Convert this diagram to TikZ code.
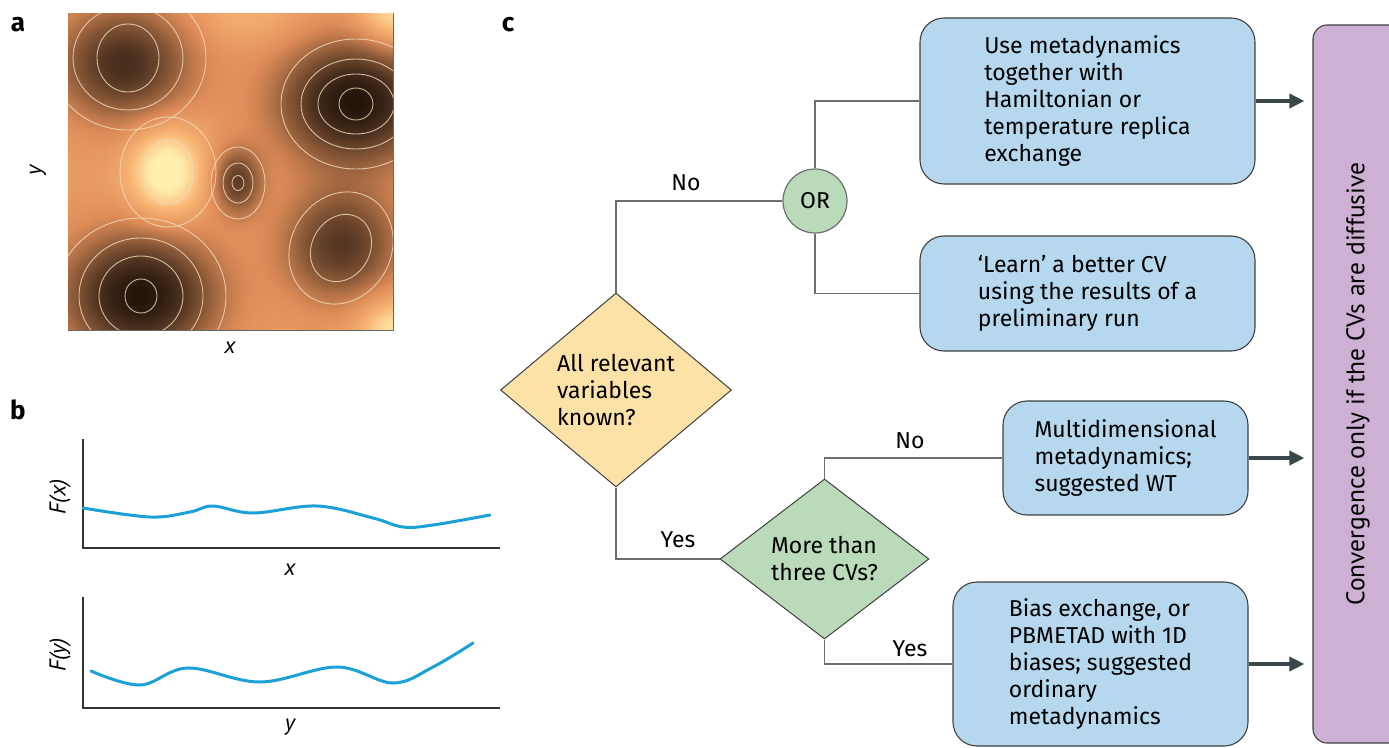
\documentclass[tikz,border=0pt]{standalone}
\usepackage{fontspec}
\setmainfont{Fira Sans}
\newfontfamily\convfont{PT Sans}
\usepackage{pgfplots}
\pgfplotsset{compat=1.18}
\usetikzlibrary{shapes.geometric,arrows.meta}
\definecolor{boxblue}{HTML}{B5D8EE}
\definecolor{diayel}{HTML}{FDE2A8}
\definecolor{diagreen}{HTML}{B9DBB9}
\definecolor{convpurple}{HTML}{CFB0D5}
\definecolor{linegrey}{HTML}{6E6E6E}
\definecolor{arrowdark}{HTML}{3A474B}
\definecolor{curveblue}{HTML}{1BA0D7}
\definecolor{contourc}{HTML}{F3DDC0}
\newcommand\flowfont{\fontsize{23}{27}\selectfont}
\tikzset{
  fbox/.style={draw=black!75, line width=1.1pt, fill=boxblue, rounded corners=24pt, align=left, inner sep=0pt, font=\flowfont},
  dia/.style={diamond, draw=black!75, line width=1pt, inner sep=0pt, align=left, font=\flowfont},
  conn/.style={draw=linegrey, line width=1.4pt},
  arr/.style={draw=arrowdark, line width=3.5pt, -{Triangle[length=15pt,width=14pt]}, shorten >=8pt},
  lbl/.style={font=\flowfont},
  panel/.style={font=\bfseries\fontsize{26}{26}\selectfont},
  axl/.style={draw=black!80, line width=1.3pt},
  curve/.style={draw=curveblue, line width=3pt, line cap=round},
  axlabel/.style={font=\convfont\itshape\fontsize{23}{23}\selectfont},
  cont/.style={draw=contourc, line width=0.9pt, opacity=0.8},
}
\begin{document}
\begin{tikzpicture}[x=1pt,y=-1pt]
\useasboundingbox[fill=white] (0,0) rectangle (1389,747);

% ---------- panel a ----------
\node[panel] (pa) at (18,25) {a};
\begin{axis}[at={(68pt,-330pt)}, anchor=south west, width=325pt, height=317pt,
  scale only axis, hide axis, view={0}{90}, xmin=0, xmax=1, ymin=0, ymax=1,
  colormap={heat}{rgb255=(30,17,8) rgb255=(75,48,30) rgb255=(140,90,56) rgb255=(222,140,88) rgb255=(248,180,115) rgb255=(255,240,175)},
  point meta min=0, point meta max=1]
\addplot3[surf, shader=interp, samples=60, domain=0:1, y domain=0:1]
{0.68 + 0.40*exp(-((x-0.30)^2/0.012+(y-0.50)^2/0.02))
 - 0.66*exp(-((x-0.88)^2/0.05+(y-0.72)^2/0.035))
 - 0.66*exp(-((x-0.22)^2/0.05+(y-0.11)^2/0.035))
 - 0.50*exp(-((x-0.17)^2/0.04+(y-0.84)^2/0.03))
 - 0.42*exp(-((x-0.52)^2/0.005+(y-0.47)^2/0.01))
 - 0.45*exp(-((x-0.84)^2/0.03+(y-0.27)^2/0.03))
 + 0.30*exp(-((x-1)^2+(y)^2)/0.012)
 + 0.30*exp(-((x-1)^2+(y-1)^2)/0.012)
 + 0.10*exp(-((x-0.55)^2/0.03+(y-1)^2/0.01))};
\end{axis}
\begin{scope}
\clip (68,13) rectangle (393,330);
\foreach \a/\b in {6/7.5,15/20,27/36} \draw[cont] (238,183) ellipse[x radius=\a, y radius=\b];
\foreach \a/\b in {31/34,55/52,78/72} \draw[cont] (128,58) ellipse[x radius=\a, y radius=\b];
\foreach \a/\b in {17/16,38/30,55/45,75/65} \draw[cont] (356,104) ellipse[x radius=\a, y radius=\b];
\foreach \a/\b in {16/17,42/40,62/58,85/78} \draw[cont] (141,296) ellipse[x radius=\a, y radius=\b];
\foreach \a/\b in {29/35,50/58} \draw[cont, rotate around={-30:(341,248)}] (341,248) ellipse[x radius=\a, y radius=\b];
\foreach \a/\b in {25/32,48/55} \draw[cont] (168,172) ellipse[x radius=\a, y radius=\b];
\end{scope}
\draw[draw=black!60, line width=0.8pt] (68,330) -- (393,330) -- (393,13);
\node[axlabel, rotate=90] (ay) at (38,170) {y};
\node[axlabel] (ax) at (230,348) {x};

% ---------- panel b ----------
\node[panel] (pb) at (18,410) {b};
\draw[axl] (83,439) |- (500,548);
\draw[curve] plot[smooth, tension=0.6] coordinates {(83,508) (150,517) (190,512) (213,506) (253,513) (317,506) (373,518) (403,527) (433,525) (490,515)};
\node[axlabel, rotate=90] (fx) at (60,497) {F(x)};
\node[axlabel] (bx) at (290,570) {x};
\draw[axl] (83,597) |- (500,708);
\draw[curve] plot[smooth, tension=0.6] coordinates {(91,671) (140,685) (188,668) (260,682) (337,667) (393,683) (433,667) (473,643)};
\node[axlabel, rotate=90] (fy) at (60,655) {F(y)};
\node[axlabel] (by) at (290,727) {y};

% ---------- panel c ----------
\node[panel] (pc) at (508,25) {c};

\node[dia, fill=diayel, minimum width=231pt, minimum height=194pt] (d1) at (616,390) {All relevant\\variables\\known?};
\node[circle, draw=linegrey, fill=diagreen, line width=1.2pt, minimum size=64pt, inner sep=0pt, font=\flowfont] (or) at (815,201) {OR};
\node[dia, fill=diagreen, minimum width=209pt, minimum height=160pt] (d2) at (824.5,559) {More than\\three CVs?};

\node[fbox, minimum width=335pt, minimum height=166pt] (b1) at (1087.5,101) {Use metadynamics\\together with\\Hamiltonian or\\temperature replica\\exchange};
\node[fbox, minimum width=335pt, minimum height=115pt] (b2) at (1087.5,293.5) {‘Learn’ a better CV\\using the results of a\\preliminary run};
\node[fbox, minimum width=245pt, minimum height=114pt] (b3) at (1125.5,458) {Multidimensional\\metadynamics;\\suggested WT};
\node[fbox, minimum width=295pt, minimum height=164pt] (b4) at (1100.5,664) {Bias exchange, or\\PBMETAD with 1D\\biases; suggested\\ordinary\\metadynamics};

\node[draw=black!75, line width=1.1pt, fill=convpurple, rounded corners=14pt, minimum width=90pt, minimum height=718pt, inner sep=0pt] (conv) at (1358,384) {};
\node[rotate=90, font=\convfont\fontsize{25.5}{25}\selectfont] (convtext) at (conv.center) {Convergence only if the CVs are diffusive};

\draw[conn] (d1.north) |- (or.west);
\draw[conn] (or.north) |- (b1.west);
\draw[conn] (or.south) |- (b2.west);
\draw[conn] (d1.south) |- (d2.west);
\draw[conn] (d2.north) |- (b3.west);
\draw[conn] (d2.south) |- (b4.west);

\node[lbl] (no1) at (686,183) {No};
\node[lbl] (yes1) at (678,540) {Yes};
\node[lbl] (no2) at (910,441) {No};
\node[lbl] (yes2) at (910,649) {Yes};

\draw[arr] (b1.east) -- (b1.east -| conv.west);
\draw[arr] (b3.east) -- (b3.east -| conv.west);
\draw[arr] (b4.east) -- (b4.east -| conv.west);
\end{tikzpicture}
\end{document}
